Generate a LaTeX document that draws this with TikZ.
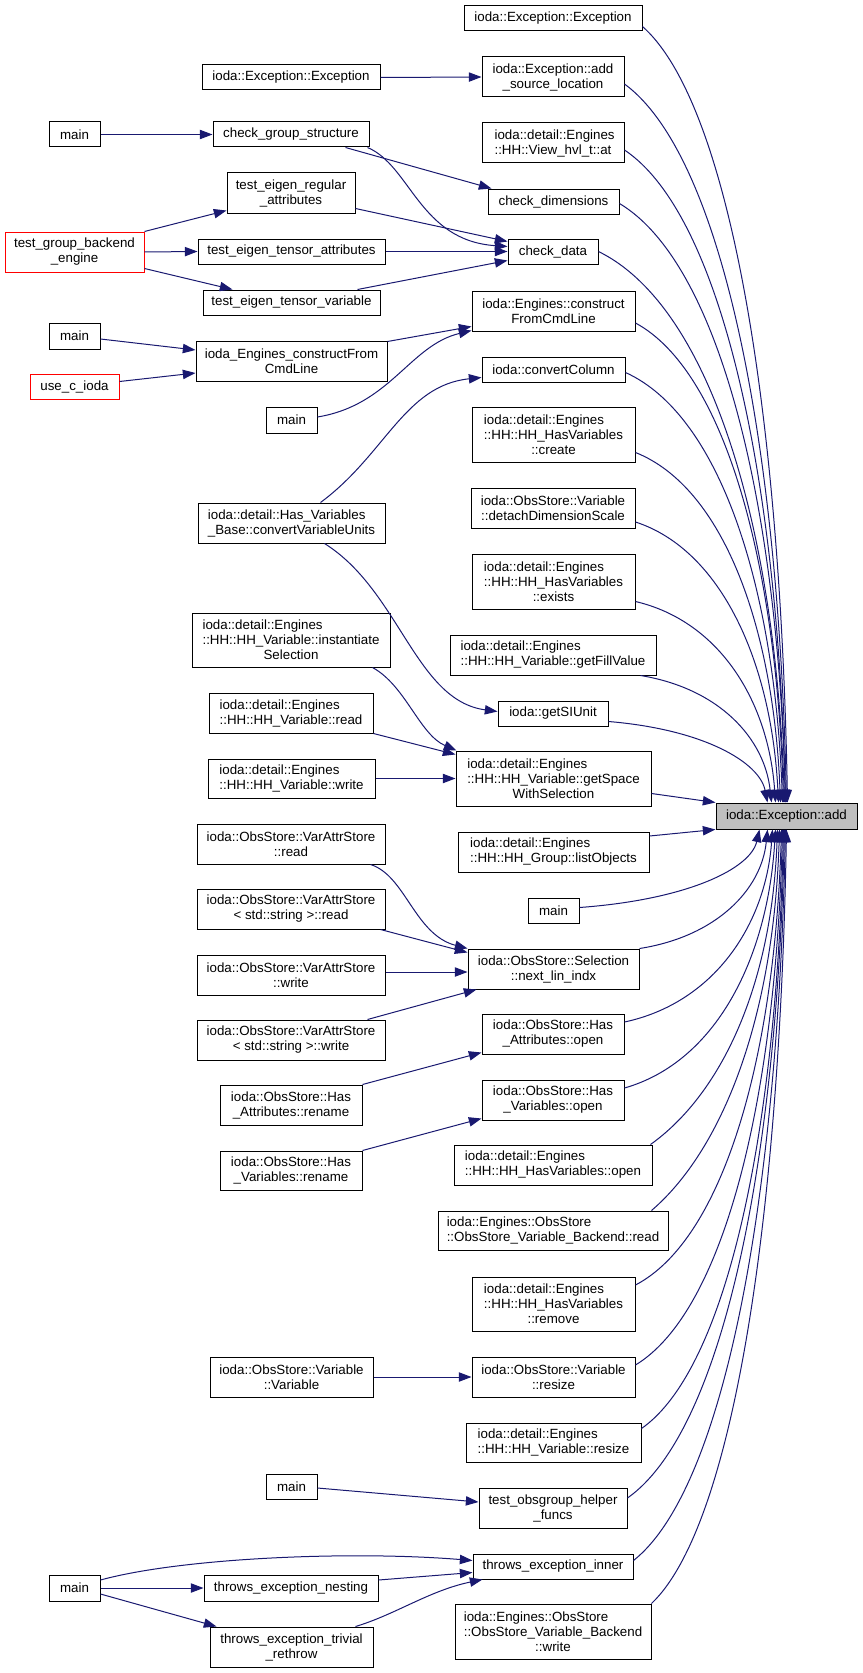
\documentclass[tikz,border=0pt]{standalone}
\usepackage{fontspec}
\setmainfont{Liberation Sans}
\usetikzlibrary{calc,arrows.meta}
\definecolor{edgeblue}{HTML}{191970}
\definecolor{rootgray}{HTML}{BFBFBF}
\newlength\lfw
\newcommand\lfline[2]{\settowidth{\lfw}{#2}\makebox[\lfw][l]{#1}\\#2}
\begin{document}
\begin{tikzpicture}[x=0.75pt,y=-0.75pt,
 fn/.style={draw=black, line width=0.75pt, rectangle, inner sep=0pt, align=center, font=\fontsize{10pt}{11.25pt}\selectfont},
 sz/.style 2 args={minimum width=#1*0.75pt, minimum height=#2*0.75pt},
 trunc/.style={fn, draw=red},
 root/.style={fn, fill=rootgray},
 edge/.style={draw=edgeblue, line width=0.75pt, -{Triangle[length=9.5pt,width=7pt]}}]
\useasboundingbox (0,0) rectangle (863,1673);
% column 1
\node[fn,sz={51}{25}] (m1) at (74.5,134.5) {main};
\node[trunc,sz={139}{40}] (tgbe) at (74.5,252) {test\_group\_backend\\\_engine};
\node[fn,sz={51}{26}] (m2) at (74.5,336) {main};
\node[trunc,sz={89}{25}] (uci) at (74.5,386.5) {use\_c\_ioda};
\node[fn,sz={51}{26}] (m3) at (74.5,1588) {main};
% column 2
\node[fn,sz={178}{25}] (exc1) at (291,77.5) {ioda::Exception::Exception};
\node[fn,sz={156}{25}] (cgs) at (291,134.5) {check\_group\_structure};
\node[fn,sz={128}{40}] (tera) at (291,193) {test\_eigen\_regular\\\_attributes};
\node[fn,sz={187}{25}] (teta) at (291.5,251.5) {test\_eigen\_tensor\_attributes};
\node[fn,sz={177}{25}] (tetv) at (291.5,302.5) {test\_eigen\_tensor\_variable};
\node[fn,sz={191}{40}] (iecfc) at (291.5,361) {ioda\_Engines\_constructFrom\\CmdLine};
\node[fn,sz={51}{26}] (m4) at (291.5,420) {main};
\node[fn,sz={187}{40}] (cvu) at (291.5,523) {\lfline{ioda::detail::Has\_Variables}{\_Base::convertVariableUnits}};
\node[fn,sz={198}{54}] (inst) at (291,640) {\lfline{ioda::detail::Engines}{::HH::HH\_Variable::instantiate}\\Selection};
\node[fn,sz={164}{40}] (hvr) at (291,713) {\lfline{ioda::detail::Engines}{::HH::HH\_Variable::read}};
\node[fn,sz={167}{39}] (hvw) at (291.5,778.5) {\lfline{ioda::detail::Engines}{::HH::HH\_Variable::write}};
\node[fn,sz={188}{40}] (vasr) at (291,844) {ioda::ObsStore::VarAttrStore\\::read};
\node[fn,sz={188}{40}] (vassr) at (291,909) {ioda::ObsStore::VarAttrStore\\< std::string >::read};
\node[fn,sz={188}{40}] (vasw) at (291,975) {ioda::ObsStore::VarAttrStore\\::write};
\node[fn,sz={188}{40}] (vassw) at (291,1040) {ioda::ObsStore::VarAttrStore\\< std::string >::write};
\node[fn,sz={142}{40}] (har) at (291,1105) {ioda::ObsStore::Has\\\_Attributes::rename};
\node[fn,sz={142}{39}] (hvrn) at (291,1170.5) {ioda::ObsStore::Has\\\_Variables::rename};
\node[fn,sz={163}{40}] (ovv) at (291.5,1377) {ioda::ObsStore::Variable\\::Variable};
\node[fn,sz={51}{25}] (m5) at (291.5,1486.5) {main};
\node[fn,sz={174}{26}] (ten) at (291,1588) {throws\_exception\_nesting};
\node[fn,sz={163}{40}] (tetr) at (291.5,1647) {throws\_exception\_trivial\\\_rethrow};
% column 3
\node[fn,sz={178}{25}] (exc2) at (553,18.5) {ioda::Exception::Exception};
\node[fn,sz={142}{40}] (asl) at (553,77) {ioda::Exception::add\\\_source\_location};
\node[fn,sz={142}{40}] (vat) at (553,143) {\lfline{ioda::detail::Engines}{::HH::View\_hvl\_t::at}};
\node[fn,sz={131}{25}] (cdim) at (553.5,201.5) {check\_dimensions};
\node[fn,sz={90}{25}] (cdat) at (553,251.5) {check\_data};
\node[fn,sz={163}{40}] (ecfc) at (553.5,311) {ioda::Engines::construct\\FromCmdLine};
\node[fn,sz={143}{25}] (ccol) at (553.5,369.5) {ioda::convertColumn};
\node[fn,sz={163}{55}] (crt) at (553.5,434.5) {\lfline{ioda::detail::Engines}{::HH::HH\_HasVariables}\\::create};
\node[fn,sz={164}{40}] (dds) at (553,508) {ioda::ObsStore::Variable\\::detachDimensionScale};
\node[fn,sz={163}{55}] (exs) at (553.5,581.5) {\lfline{ioda::detail::Engines}{::HH::HH\_HasVariables}\\::exists};
\node[fn,sz={206}{40}] (gfv) at (553,655) {\lfline{ioda::detail::Engines}{::HH::HH\_Variable::getFillValue}};
\node[fn,sz={110}{25}] (gsu) at (553,713.5) {ioda::getSIUnit};
\node[fn,sz={195}{55}] (gsws) at (553.5,778.5) {\lfline{ioda::detail::Engines}{::HH::HH\_Variable::getSpace}\\WithSelection};
\node[root,sz={141}{26}] (add) at (786.5,816) {ioda::Exception::add};
\node[fn,sz={191}{40}] (lob) at (553.5,852) {\lfline{ioda::detail::Engines}{::HH::HH\_Group::listObjects}};
\node[fn,sz={51}{25}] (m6) at (553.5,910.5) {main};
\node[fn,sz={171}{40}] (nli) at (553.5,969) {ioda::ObsStore::Selection\\::next\_lin\_indx};
\node[fn,sz={142}{40}] (hao) at (553,1034) {ioda::ObsStore::Has\\\_Attributes::open};
\node[fn,sz={142}{40}] (hvo) at (553,1100) {ioda::ObsStore::Has\\\_Variables::open};
\node[fn,sz={198}{40}] (hhvo) at (553,1165) {\lfline{ioda::detail::Engines}{::HH::HH\_HasVariables::open}};
\node[fn,sz={230}{39}] (bread) at (553,1230.5) {\lfline{ioda::Engines::ObsStore}{::ObsStore\_Variable\_Backend::read}};
\node[fn,sz={163}{54}] (rmv) at (553.5,1304) {\lfline{ioda::detail::Engines}{::HH::HH\_HasVariables}\\::remove};
\node[fn,sz={163}{40}] (ovr) at (553.5,1377) {ioda::ObsStore::Variable\\::resize};
\node[fn,sz={175}{39}] (hhvr) at (553.5,1442.5) {\lfline{ioda::detail::Engines}{::HH::HH\_Variable::resize}};
\node[fn,sz={148}{40}] (togh) at (553,1508) {test\_obsgroup\_helper\\\_funcs};
\node[fn,sz={160}{25}] (tei) at (553,1566.5) {throws\_exception\_inner};
\node[fn,sz={196}{55}] (bwrite) at (553,1631.5) {\lfline{ioda::Engines::ObsStore}{::ObsStore\_Variable\_Backend}\\::write};
% column 1 -> column 2
\draw[edge] (m1.east) -- (cgs.west);
\draw[edge] (tgbe.north east) -- ($(tera.south west)+(0,-3)$);
\draw[edge] (tgbe.east) -- (teta.west);
\draw[edge] ($(tgbe.south east)+(0,-4)$) -- ($(tetv.north west)+(30,0)$);
\draw[edge] ($(m2.east)+(0,3)$) -- ($(iecfc.west)+(0,-11)$);
\draw[edge] ($(uci.east)+(0,-5)$) -- ($(iecfc.west)+(0,12)$);
\draw[edge] (m3.east) -- (ten.west);
\draw[edge] ($(m3.east)+(0,6)$) -- ($(tetr.north west)+(7,0)$);
\draw[edge] ($(m3.east)+(0,-8)$) .. controls +(80,-22) and +(-123,-10) .. ($(tei.west)+(0,-6)$);
% column 2 -> column 3
\draw[edge] (exc1.east) -- (asl.west);
\draw[edge] ($(cgs.south east)+(-24,0)$) -- ($(cdim.north west)+(4,0)$);
\draw[edge] ($(cgs.south east)+(-2,0)$) .. controls +(43,18) and +(-88,-6) .. ($(cdat.west)+(0,-5)$);
\draw[edge] ($(tera.south east)+(0,-5)$) -- ($(cdat.north west)+(0,3)$);
\draw[edge] (teta.east) -- (cdat.west);
\draw[edge] ($(tetv.north east)+(-23,0)$) -- ($(cdat.south west)+(0,-4)$);
\draw[edge] ($(iecfc.north east)+(0,1)$) -- ($(ecfc.south west)+(0,-5)$);
\draw[edge] ($(m4.east)+(0,-3)$) .. controls +(73,-12) and +(-62,15) .. ($(ecfc.south west)+(0,-1)$);
\draw[edge] ($(cvu.north)+(29,0)$) .. controls +(65,-48) and +(-77,8) .. ($(ccol.south west)+(0,-5)$);
\draw[edge] ($(cvu.south)+(33,0)$) .. controls +(75,47) and +(-82,-11) .. ($(gsu.west)+(0,-2)$);
\draw[edge] ($(inst.south east)+(-18,0)$) .. controls +(33,18) and +(-37,-16) .. ($(gsws.north west)+(1,0)$);
\draw[edge] (hvr.south east) -- ($(gsws.north west)+(0,4)$);
\draw[edge] (hvw.east) -- (gsws.west);
\draw[edge] ($(vasr.south east)+(-15,0)$) .. controls +(35,11) and +(-53,-14) .. (nli.north west);
\draw[edge] ($(vassr.south east)+(-5,0)$) -- ($(nli.north west)+(0,4)$);
\draw[edge] ($(vasw.east)+(0,-3)$) -- ($(nli.west)+(0,3)$);
\draw[edge] ($(vassw.north east)+(-18,0)$) -- ($(nli.south west)+(9,0)$);
\draw[edge] (har.north east) -- ($(hao.south west)+(0,-2)$);
\draw[edge] (hvrn.north east) -- ($(hvo.south west)+(0,-2)$);
\draw[edge] (ovv.east) -- (ovr.west);
\draw[edge] ($(m5.east)+(0,1.5)$) -- ($(togh.west)+(0,-6)$);
\draw[edge] ($(ten.east)+(0,-8)$) -- ($(tei.west)+(0,6)$);
\draw[edge] ($(tetr.north east)+(-18,0)$) .. controls +(40,-12) and +(-53,11) .. ($(tei.south west)+(10,0)$);
% column 3 -> root (upper)
\draw[edge] ($(exc2.east)+(0,8)$) .. controls +(88,78) and +(-7,-388) .. ($(add.north west)+(72,0)$);
\draw[edge] ($(asl.east)+(0,7)$) .. controls +(98,72) and +(-8,-360) .. ($(add.north west)+(71,0)$);
\draw[edge] ($(vat.east)+(0,7)$) .. controls +(97,65) and +(-8,-327) .. ($(add.north west)+(70,0)$);
\draw[edge] ($(cdim.east)+(0,2)$) .. controls +(100,60) and +(-8,-300) .. ($(add.north west)+(70,0)$);
\draw[edge] (cdat.east) .. controls +(112,55) and +(-9,-276) .. ($(add.north west)+(69,0)$);
\draw[edge] ($(ecfc.east)+(0,12)$) .. controls +(89,48) and +(-7,-240) .. ($(add.north west)+(68,0)$);
\draw[edge] ($(ccol.east)+(0,3)$) .. controls +(95,43) and +(-8,-215) .. ($(add.north west)+(67,0)$);
\draw[edge] ($(crt.east)+(0,18)$) .. controls +(88,35) and +(-7,-175) .. ($(add.north west)+(65,0)$);
\draw[edge] ($(dds.east)+(0,14)$) .. controls +(86,28) and +(-7,-140) .. ($(add.north west)+(63,0)$);
\draw[edge] ($(exs.east)+(0,20)$) .. controls +(85,20) and +(-7,-100) .. ($(add.north west)+(60,0)$);
\draw[edge] ($(gfv.south east)+(-16,0)$) .. controls +(79,13) and +(-7,-64) .. ($(add.north west)+(56,0)$);
\draw[edge] ($(gsu.east)+(0,8)$) .. controls +(96,8) and +(-8,-40) .. ($(add.north west)+(52,0)$);
\draw[edge] ($(gsws.east)+(0,15)$) -- (add.north west);
% column 3 -> root (lower)
\draw[edge] ($(lob.east)+(0,-16)$) -- (add.south west);
\draw[edge] ($(m6.east)+(0,-3)$) .. controls +(109,-8) and +(-9,39) .. ($(add.south west)+(44,0)$);
\draw[edge] (nli.north east) .. controls +(77,-12) and +(-6,60) .. ($(add.south west)+(52,0)$);
\draw[edge] ($(hao.east)+(0,-12)$) .. controls +(89,-19) and +(-7,96) .. ($(add.south west)+(57,0)$);
\draw[edge] ($(hvo.east)+(0,-12)$) .. controls +(91,-26) and +(-8,130) .. ($(add.south west)+(60,0)$);
\draw[edge] ($(hhvo.north east)+(-2,0)$) .. controls +(70,-50) and +(-6,158) .. ($(add.south west)+(62,0)$);
\draw[edge] ($(bread.north east)+(-17,0)$) .. controls +(70,-60) and +(-6,191) .. ($(add.south west)+(64,0)$);
\draw[edge] ($(rmv.east)+(0,-19)$) .. controls +(88,-46) and +(-7,228) .. ($(add.south west)+(66,0)$);
\draw[edge] ($(ovr.east)+(0,-12)$) .. controls +(89,-54) and +(-7,268) .. ($(add.south west)+(67,0)$);
\draw[edge] ($(hhvr.east)+(0,-14)$) .. controls +(86,-60) and +(-7,300) .. ($(add.south west)+(68,0)$);
\draw[edge] ($(togh.east)+(0,-10)$) .. controls +(95,-67) and +(-8,335) .. ($(add.south west)+(69,0)$);
\draw[edge] ($(tei.east)+(0,-6)$) .. controls +(92,-73) and +(-8,366) .. ($(add.south west)+(70,0)$);
\draw[edge] (bwrite.north east) .. controls +(82,-78) and +(-7,388) .. ($(add.south west)+(71,0)$);
\end{tikzpicture}
\end{document}
